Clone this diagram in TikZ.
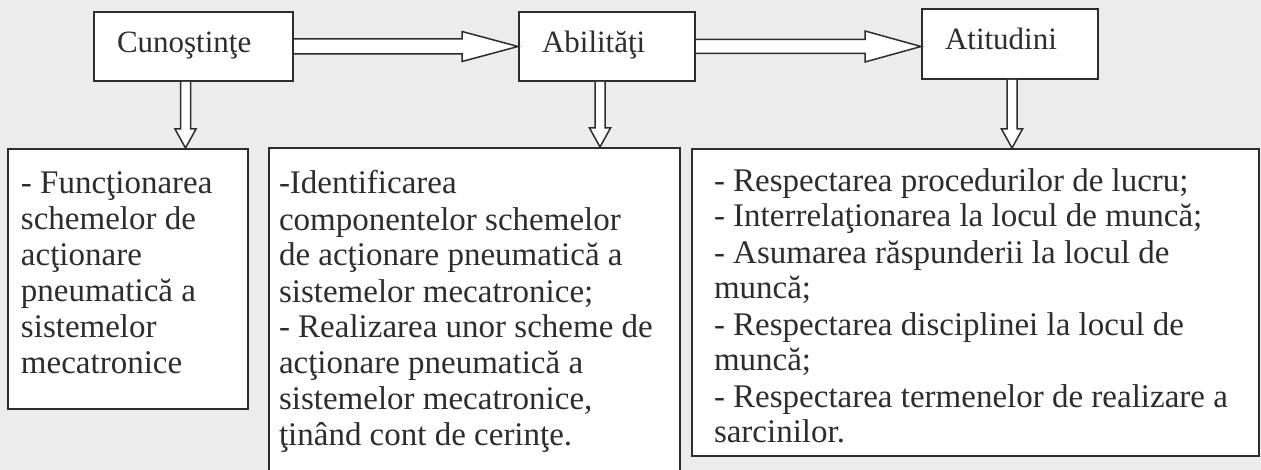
\documentclass[tikz,border=0pt]{standalone}
\usepackage{fontspec}
\setmainfont{Liberation Serif}
\usetikzlibrary{calc}
\definecolor{bg}{RGB}{236,236,236}
\definecolor{ink}{RGB}{45,45,45}
% width, height, left inset, first-baseline offset, text
\newcommand\bxt[5]{\parbox[c][#2][t]{#1}{\raggedright\leftskip=#3\relax\rule{0pt}{#4}#5}}
\begin{document}
\begin{tikzpicture}[x=1pt,y=-1pt,
  box/.style={draw=ink, line width=2pt, fill=white, inner sep=0pt, text=ink, anchor=north west},
  topfont/.style={font=\fontsize{31}{36}\selectfont},
  lowfont/.style={font=\fontsize{33}{36}\selectfont},
  blk/.style={draw=ink, line width=1.5pt, fill=white, line join=miter}]
\fill[bg] (0,0) rectangle (1261,470);
\useasboundingbox (0,0) rectangle (1261,470);

% top boxes
\node[box, topfont] (c1) at (93,11)  {\bxt{199pt}{69pt}{23pt}{41pt}{Cunoştinţe}};
\node[box, topfont] (c2) at (518,11) {\bxt{176pt}{69pt}{23pt}{41pt}{Abilităţi}};
\node[box, topfont] (c3) at (921,8)  {\bxt{176pt}{70pt}{23pt}{41pt}{Atitudini}};

% lower boxes
\node[box, lowfont] (l1) at (7,148) {\bxt{240pt}{260pt}{13pt}{45pt}{%
- Funcţionarea\\
schemelor de\\
acţionare\\
pneumatică a\\
sistemelor\\
mecatronice}};
\node[box, lowfont] (l2) at (268,147) {\bxt{411pt}{335pt}{10pt}{46pt}{%
-Identificarea\\
componentelor schemelor\\
de acţionare pneumatică a\\
sistemelor mecatronice;\\
- Realizarea unor scheme de\\
acţionare pneumatică a\\
sistemelor mecatronice,\\
ţinând cont de cerinţe.}};
\node[box, lowfont] (l3) at (691,148) {\bxt{567pt}{307pt}{22pt}{42pt}{%
- Respectarea procedurilor de lucru;\\
- Interrelaţionarea la locul de muncă;\\
- Asumarea răspunderii la locul de\\
muncă;\\
- Respectarea disciplinei la locul de\\
muncă;\\
- Respectarea termenelor de realizare a\\
sarcinilor.}};

% horizontal block arrows
\draw[blk] let \p1=(c1.east), \p2=(c2.west) in
  (\x1,\y1+7.5pt) -- (\x2-56pt,\y1+7.5pt) -- (\x2-56pt,\y1+15pt) -- (\x2,\y1)
  -- (\x2-56pt,\y1-15pt) -- (\x2-56pt,\y1-7.5pt) -- (\x1,\y1-7.5pt);
\draw[blk] let \p1=(c2.east), \p2=(c3.west) in
  (\x1,\y1+7pt) -- (\x2-56pt,\y1+7pt) -- (\x2-56pt,\y1+15.5pt) -- (\x2,\y1)
  -- (\x2-56pt,\y1-15.5pt) -- (\x2-56pt,\y1-7pt) -- (\x1,\y1-7pt);

% vertical block arrows
\coordinate (a1) at ($(c1.south)+(-8,0)$);
\coordinate (a2) at ($(c2.south)+(-7,0)$);
\coordinate (a3) at ($(c3.south)+(2,0)$);
\foreach \s/\t in {a1/l1, a2/l2, a3/l3}{
  \draw[blk] let \p1=(\s), \p2=(\s |- \t.north) in
    (\x1-5pt,\y1) -- (\x1-5pt,\y2+19pt) -- (\x1-10.5pt,\y2+19pt) -- (\x1,\y2)
    -- (\x1+10.5pt,\y2+19pt) -- (\x1+5pt,\y2+19pt) -- (\x1+5pt,\y1);
}
\end{tikzpicture}
\end{document}
